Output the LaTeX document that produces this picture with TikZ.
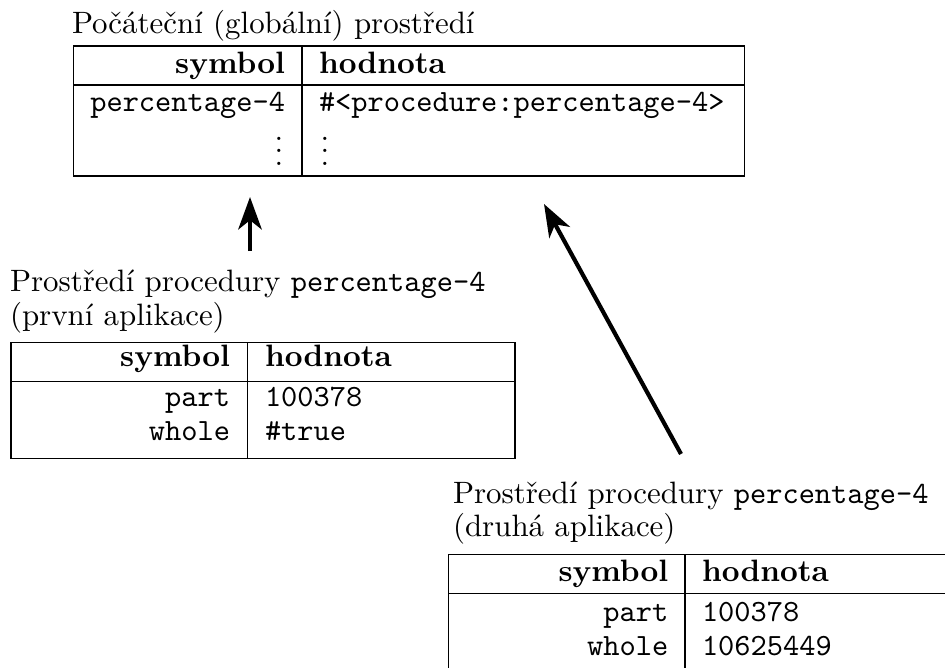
\documentclass[tikz,border=0pt]{standalone}
\usepackage{fontspec}
\usetikzlibrary{arrows.meta}
\tikzset{
  tline/.style={line width=0.45pt, black},
  lbl/.style={inner sep=0pt, outer sep=0pt},
  hdr/.style={lbl, font=\bfseries},
  mono/.style={lbl, font=\ttfamily},
  dots/.style={lbl, text height=7pt, text depth=0pt},
  envarrow/.style={line width=1.35pt, -{Stealth[length=10.5pt,width=7.6pt,inset=3pt]}}
}
\begin{document}
\begin{tikzpicture}[x=0.3236pt, y=-0.3236pt]
\useasboundingbox (0,0) rectangle (945,667);
\clip (0,0) rectangle (945,667);

% ---------- global environment ----------
\node[lbl, anchor=base west] (g-title) at (72,33) {Počáteční (globální) prostředí};
\draw[tline] (73.3,46) rectangle (744.3,176);
\draw[tline] (73.3,85) -- (744.3,85);
\draw[tline] (302,46) -- (302,176);
\node[hdr, anchor=base east] (g-sym) at (285,73.3) {symbol};
\node[hdr, anchor=base west] (g-val) at (319,73.3) {hodnota};
\node[mono, anchor=base east] (g-s1) at (285,111.7) {percentage-4};
\node[mono, anchor=base west] (g-v1) at (319,111.7) {\#<procedure:percentage-4>};
\node[dots, anchor=base] (g-s2) at (279,165) {$\vdots$};
\node[dots, anchor=base] (g-v2) at (325,165) {$\vdots$};

% ---------- first application ----------
\node[lbl, anchor=base west] (a-title1) at (10,291.7) {Prostředí procedury \texttt{percentage-4}};
\node[lbl, anchor=base west] (a-title2) at (10,325) {(první aplikace)};
\draw[tline] (11,342.7) rectangle (515,458.3);
\draw[tline] (11,381.7) -- (515,381.7);
\draw[tline] (247.7,342.7) -- (247.7,458.3);
\node[hdr, anchor=base east] (a-sym) at (230,366) {symbol};
\node[hdr, anchor=base west] (a-val) at (265,366) {hodnota};
\node[mono, anchor=base east] (a-s1) at (230,406.7) {part};
\node[mono, anchor=base west] (a-v1) at (265,406.7) {100378};
\node[mono, anchor=base east] (a-s2) at (230,440) {whole};
\node[mono, anchor=base west] (a-v2) at (265,440) {\#true};

% ---------- second application ----------
\node[lbl, anchor=base west] (b-title1) at (453,503.3) {Prostředí procedury \texttt{percentage-4}};
\node[lbl, anchor=base west] (b-title2) at (453,536.6) {(druhá aplikace)};
\draw[tline] (448.3,700) -- (448.3,554.3) -- (1000,554.3);
\draw[tline] (448.3,593.3) -- (1000,593.3);
\draw[tline] (685,554.3) -- (685,700);
\node[hdr, anchor=base east] (b-sym) at (668.3,581.7) {symbol};
\node[hdr, anchor=base west] (b-val) at (702,581.7) {hodnota};
\node[mono, anchor=base east] (b-s1) at (668.3,621.7) {part};
\node[mono, anchor=base west] (b-v1) at (702,621.7) {100378};
\node[mono, anchor=base east] (b-s2) at (668.3,655) {whole};
\node[mono, anchor=base west] (b-v2) at (702,655) {10625449};

% ---------- arrows ----------
\coordinate (a-from) at (250,251);
\coordinate (a-to) at (250,197);
\coordinate (b-from) at (681,454);
\coordinate (b-to) at (544,204);
\draw[envarrow] (a-from) -- (a-to);
\draw[envarrow] (b-from) -- (b-to);
\end{tikzpicture}
\end{document}
